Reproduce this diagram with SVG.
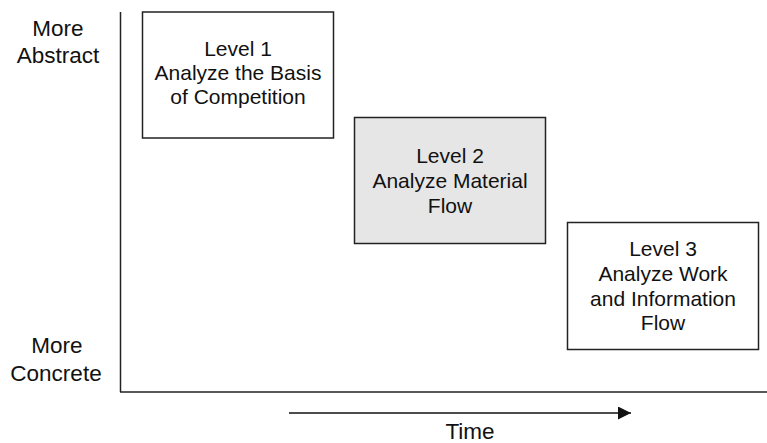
<svg xmlns="http://www.w3.org/2000/svg" width="767" height="443" viewBox="0 0 767 443">
<style>
text{font-family:"Liberation Sans",Arial,sans-serif;fill:#111;text-anchor:middle}
.box{stroke:#222;stroke-width:1.5}
.lbl{font-size:21px}
.side{font-size:22.5px}
.ax{stroke:#222;stroke-width:1.5;fill:none}
</style>
<defs>
<marker id="ah" viewBox="0 0 10 10" refX="10" refY="5" markerWidth="16" markerHeight="13" markerUnits="userSpaceOnUse" orient="auto">
<path d="M0,0 L10,5 L0,10 Z" fill="#111"/>
</marker>
</defs>
<rect width="767" height="443" fill="#fff"/>
<g id="axes">
<line class="ax" x1="120.5" y1="12" x2="120.5" y2="392"/>
<line class="ax" x1="120" y1="392" x2="767" y2="392"/>
</g>
<g id="connectors">
<line x1="289" y1="413" x2="631" y2="413" stroke="#111" stroke-width="1.5" marker-end="url(#ah)"/>
</g>
<g id="label-abstract">
<text class="side" x="58" y="36">More</text>
<text class="side" x="58" y="63">Abstract</text>
</g>
<g id="label-concrete">
<text class="side" x="57" y="353">More</text>
<text class="side" x="56" y="381">Concrete</text>
</g>
<g id="label-time">
<text class="side" x="470" y="439">Time</text>
</g>
<g id="level1">
<rect class="box" x="142.5" y="12" width="191" height="126" fill="#fff"/>
<text class="lbl" x="238" y="56">Level 1</text>
<text class="lbl" x="238" y="80">Analyze the Basis</text>
<text class="lbl" x="238" y="104">of Competition</text>
</g>
<g id="level2">
<rect class="box" x="354.5" y="117.5" width="191" height="126" fill="#e6e6e6"/>
<text class="lbl" x="450" y="163">Level 2</text>
<text class="lbl" x="450" y="188">Analyze Material</text>
<text class="lbl" x="450" y="212.5">Flow</text>
</g>
<g id="level3">
<rect class="box" x="567.5" y="222.5" width="191" height="127" fill="#fff"/>
<text class="lbl" x="663" y="256">Level 3</text>
<text class="lbl" x="663" y="281">Analyze Work</text>
<text class="lbl" x="663" y="306">and Information</text>
<text class="lbl" x="663" y="330">Flow</text>
</g>
</svg>
